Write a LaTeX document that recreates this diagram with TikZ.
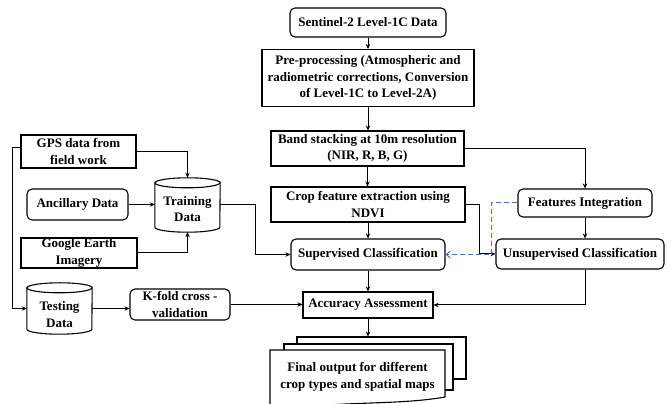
\documentclass[tikz,border=0pt]{standalone}
\usepackage{fontspec}
\setmainfont{Liberation Serif}
\usetikzlibrary{arrows.meta,calc}
\definecolor{dblue}{RGB}{68,114,196}
\newcommand{\drawcyl}[3]{%
  \draw[box] ([yshift=-#3]#1.north west) -- ([yshift=#3]#1.south west)
    arc[start angle=180,end angle=360,x radius=#2,y radius=#3]
    -- ([yshift=-#3]#1.north east)
    arc[start angle=0,end angle=180,x radius=#2,y radius=#3] -- cycle;
  \draw[box] ([yshift=-#3]#1.north west)
    arc[start angle=180,end angle=360,x radius=#2,y radius=#3];
}
\begin{document}
\begin{tikzpicture}[x=1pt,y=1pt,
  font=\fontsize{13}{16.5}\selectfont\bfseries,
  box/.style={draw, line width=1.1pt},
  rbox/.style={box, rounded corners=5pt},
  nd/.style={inner sep=0pt, align=center},
  cylnode/.style={nd, draw=none},
  arr/.style={line width=1pt, -{Stealth[length=5pt,width=4.5pt]}},
  dasharr/.style={draw=dblue, line width=1pt, dash pattern=on 5pt off 3pt,
     -{Straight Barb[length=4pt,width=7pt]}}
]
\useasboundingbox (0,0) rectangle (667,404);

% central column
\node[rbox, nd, minimum width=156pt, minimum height=29pt] (sent) at (368,381.5) {Sentinel-2 Level-1C Data};
\node[box, nd, minimum width=212pt, minimum height=57pt] (pre) at (368,326) {Pre-processing (Atmospheric and\\radiometric corrections, Conversion\\of Level-1C to Level-2A)};
\node[box, nd, minimum width=193pt, minimum height=35pt] (band) at (367.5,255.5) {Band stacking at 10m resolution\\(NIR, R, B, G)};
\node[box, nd, minimum width=194pt, minimum height=35pt] (crop) at (368,199.5) {Crop feature extraction using\\NDVI};
\node[rbox, nd, minimum width=154pt, minimum height=31pt] (sup) at (368,149.5) {Supervised Classification};
\node[box, nd, minimum width=130pt, minimum height=26pt] (acc) at (368,99) {Accuracy Assessment};

% right column
\node[rbox, nd, minimum width=134pt, minimum height=28pt] (feat) at (585,201) {Features Integration};
\node[rbox, nd, minimum width=168pt, minimum height=30pt] (unsup) at (580,150) {Unsupervised Classification};

% left column
\node[box, nd, minimum width=115pt, minimum height=33pt] (gps) at (78.5,252.5) {GPS data from\\field work};
\node[rbox, nd, minimum width=101pt, minimum height=31pt] (anc) at (77.5,199.5) {Ancillary Data};
\node[box, nd, minimum width=116pt, minimum height=30pt] (ge) at (79,151) {Google Earth\\Imagery};
\node[rbox, nd, minimum width=100pt, minimum height=31pt] (kfold) at (180,99.5) {K-fold cross -\\validation};
\node[cylnode, minimum width=65pt, minimum height=54pt] (train) at (187.5,199) {};
\node[cylnode, minimum width=65pt, minimum height=51pt] (test) at (59.5,95.5) {};
\drawcyl{train}{32.5pt}{5pt}
\drawcyl{test}{32.5pt}{5pt}
\node[nd] (trainlbl) at ([yshift=-4pt]train.center) {Training\\Data};
\node[nd] (testlbl) at ([yshift=-6pt]test.center) {Testing\\Data};

% final output (multi-document)
\node[box, fill=white, minimum width=169pt, minimum height=42pt, inner sep=0pt] (finalback) at (381.5,46) {};
\node[box, fill=white, minimum width=169pt, minimum height=46pt, inner sep=0pt] (finalmid) at (368.5,37) {};
\draw[box, fill=white] (270,54) -- (445,54) -- (445,7)
   .. controls (395,-2) and (330,4) .. (270,-8) -- cycle;
\node[nd] (final) at (357.5,27) {Final output for different\\crop types and spatial maps};

% connectors
\coordinate (cj) at (479,0);
\coordinate (dj) at (491,0);
\coordinate (tj) at (255,0);
\coordinate (gj) at (12,0);

\draw[arr] (sent.south) -- (sent.south |- pre.north);
\draw[arr] (pre.south) -- (pre.south |- band.north);
\draw[arr] (band.south) -- (band.south |- crop.north);
\draw[arr] (crop.south) -- (crop.south |- sup.north);
\draw[arr] (sup.south) -- (sup.south |- acc.north);
\draw[arr] (acc.south) -- (acc.south |- finalback.north);

\draw[arr] (band.east) -| (feat.north);
\draw[arr] (feat.south) -- (feat.south |- unsup.north);
\draw[arr] (crop.east) -- (crop.east -| cj) |- (unsup.west);
\draw[dasharr] (feat.west) -- (feat.west -| dj) |- (sup.east);
\draw[arr] (unsup.south -| feat.south) |- (acc.east);

\draw[arr] (gps.east) -| (train.north);
\draw[arr] (anc.east) -- (anc.east -| train.west);
\draw[arr] (ge.east) -| (train.south);
\draw[arr] (train.east) -- (train.east -| tj) |- (sup.west);
\draw[arr] ([yshift=4pt]gps.west) -- ([yshift=4pt]gps.west -| gj) |- (test.west);
\draw[arr] (test.east) -- (test.east -| kfold.west);
\draw[arr] (kfold.east) -- (kfold.east -| acc.west);
\end{tikzpicture}
\end{document}
